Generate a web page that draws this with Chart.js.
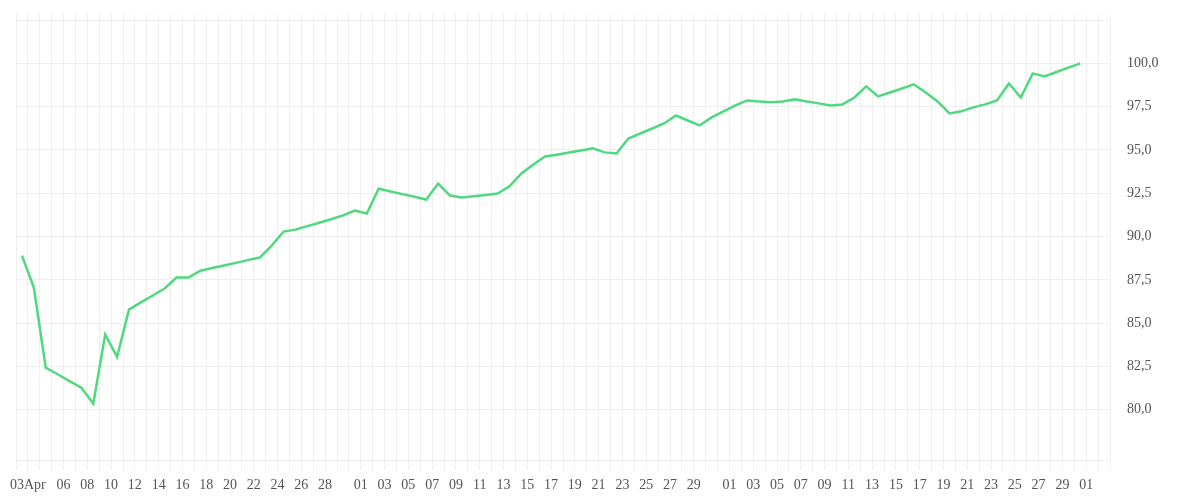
<!DOCTYPE html>
<html>
<head>
<meta charset="utf-8">
<script src="https://cdn.jsdelivr.net/npm/chart.js@4.4.1/dist/chart.umd.min.js"></script>
<style>
  html, body { margin: 0; padding: 0; background: #fff; }
  #wrap { width: 1200px; height: 500px; }
</style>
</head>
<body>
<div id="wrap"><canvas id="chart"></canvas></div>
<script>
// days on the axis: 2 Apr .. 2 Jul
const firstDay = '2020-04-02';
const dayCount = 92;

// one value per day, 2 Apr .. 30 Jun
const values = [
    88.9, 87.05, 82.43, 82.05, 81.65, 81.27, 80.35, 84.34, 83.06, 85.78,
    86.2, 86.6, 87.0, 87.63, 87.63, 88.03, 88.18, 88.33, 88.48, 88.64,
    88.79, 89.48, 90.29, 90.4, 90.6, 90.8, 91.0, 91.22, 91.5, 91.33,
    92.77, 92.6, 92.45, 92.3, 92.14, 93.06, 92.37, 92.25, 92.33, 92.4,
    92.48, 92.9, 93.64, 94.16, 94.62, 94.73, 94.85, 94.97, 95.09, 94.86,
    94.8, 95.66, 95.95, 96.24, 96.53, 96.99, 96.7, 96.42, 96.88, 97.23,
    97.57, 97.86, 97.8, 97.75, 97.8, 97.92, 97.8, 97.69, 97.57, 97.63,
    98.03, 98.67, 98.09, 98.32, 98.55, 98.79, 98.32, 97.8, 97.11, 97.23,
    97.46, 97.63, 97.86, 98.84, 98.03, 99.42, 99.25, 99.5, 99.75, 100.0
];

// text under each day (empty = gridline only)
const tickLabels = [
    // April 2..30
    '', '03Apr', '', '', '06', '', '08', '', '10', '', '12', '', '14', '', '16',
    '', '18', '', '20', '', '22', '', '24', '', '26', '', '28', '', '',
    // May 1..31
    '01', '', '03', '', '05', '', '07', '', '09', '', '11', '', '13', '', '15', '',
    '17', '', '19', '', '21', '', '23', '', '25', '', '27', '', '29', '', '',
    // June 1..30
    '01', '', '03', '', '05', '', '07', '', '09', '', '11', '', '13', '', '15', '',
    '17', '', '19', '', '21', '', '23', '', '25', '', '27', '', '29', '',
    // July 1..2
    '01', ''
];

const yTicks = [80, 82.5, 85, 87.5, 90, 92.5, 95, 97.5, 100, 102.5];
const yMin = 77.1;
const yMax = 102.85;

function buildDays(start, count) {
    let days = [];
    let d = new Date(start + 'T00:00:00Z');
    for (let i = 0; i < count; i++) {
        days.push(d.toISOString().slice(5, 10));
        d.setUTCDate(d.getUTCDate() + 1);
    }
    return days;
}

function formatValue(v) {
    if (v > 100) return '';
    return v.toFixed(1).replace('.', ',');
}

const gridColor = '#efefef';
const textColor = '#555';
const labelFont = { family: "'Liberation Serif', serif", size: 14 };

const config = {
    type: 'line',
    data: {
        labels: buildDays(firstDay, dayCount),
        datasets: [{
            data: values,
            borderColor: '#4fd97f',
            borderWidth: 2.5,
            pointRadius: 0,
            tension: 0,
            fill: false
        }]
    },
    options: {
        animation: false,
        responsive: true,
        maintainAspectRatio: false,
        layout: { padding: { left: 16, top: 14, right: 0, bottom: 0 } },
        plugins: {
            legend: { display: false },
            tooltip: { enabled: false }
        },
        scales: {
            x: {
                type: 'category',
                offset: true,
                grid: { offset: true, color: gridColor, tickLength: 10, drawTicks: true },
                border: { color: gridColor },
                ticks: {
                    autoSkip: false,
                    maxRotation: 0,
                    labelOffset: -6,
                    padding: 7,
                    color: textColor,
                    font: labelFont,
                    callback: (v, i) => tickLabels[i]
                },
                afterFit: (s) => { s.height = 40; s.paddingLeft = 0; s.paddingRight = 0; }
            },
            y: {
                position: 'right',
                min: yMin,
                max: yMax,
                grid: { color: gridColor, drawTicks: false },
                border: { color: gridColor },
                afterBuildTicks: (s) => { s.ticks = yTicks.map((v) => ({ value: v })); },
                ticks: {
                    padding: 17,
                    color: textColor,
                    font: labelFont,
                    callback: formatValue
                },
                afterFit: (s) => { s.width = 90; s.paddingTop = 0; s.paddingBottom = 0; }
            }
        }
    }
};

new Chart(document.getElementById('chart'), config);
</script>
</body>
</html>
